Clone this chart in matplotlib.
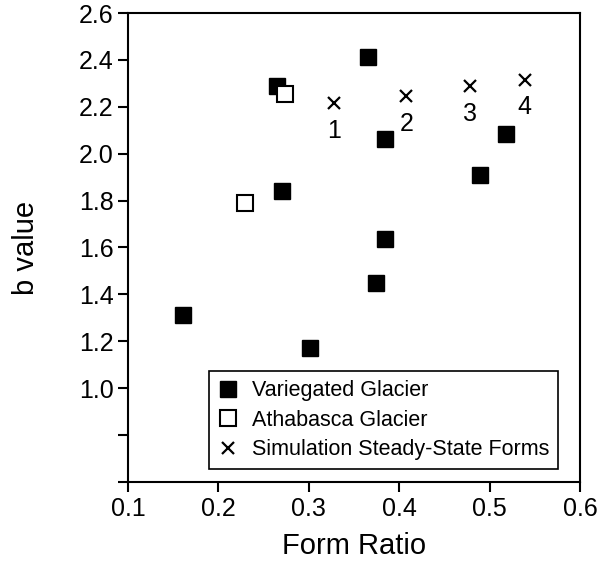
import matplotlib.pyplot as plt

plt.rcParams['font.family'] = ['Liberation Sans', 'DejaVu Sans']

# Variegated Glacier
var_x = [0.161, 0.265, 0.270, 0.301, 0.366, 0.374, 0.384, 0.384, 0.489, 0.518]
var_y = [1.310, 2.287, 1.839, 1.173, 2.412, 1.448, 2.064, 1.636, 1.909, 2.082]
# Athabasca Glacier
ath_x = [0.230, 0.274]
ath_y = [1.788, 2.256]
# simulation steady-state forms
sim_x = [0.328, 0.408, 0.478, 0.539]
sim_y = [2.217, 2.245, 2.287, 2.316]
sim_lab = ['1', '2', '3', '4']

yticks = [0.6, 0.8, 1.0, 1.2, 1.4, 1.6, 1.8, 2.0, 2.2, 2.4, 2.6]
ylabels = ['', '', '1.0', '1.2', '1.4', '1.6', '1.8', '2.0', '2.2', '2.4', '2.6']
xticks = [0.1, 0.2, 0.3, 0.4, 0.5, 0.6]

fig = plt.figure(figsize=(6.06, 5.63), dpi=100)
ax = fig.add_axes([0.2112, 0.1439, 0.7458, 0.833])

ax.plot(var_x, var_y, 's', ms=12, color='black', label='Variegated Glacier')
ax.plot(ath_x, ath_y, 's', ms=11, mfc='white', mec='black', mew=1.5, label='Athabasca Glacier')
ax.plot(sim_x, sim_y, ls='none', marker='x', ms=8, mew=1.6, color='black',
        label='Simulation Steady-State Forms')
for x, y, t in zip(sim_x, sim_y, sim_lab):
    ax.annotate(t, (x, y), xytext=(0, -20), textcoords='offset points',
                ha='center', va='center', fontsize=18)

ax.set_xlim(0.1, 0.6)
ax.set_ylim(0.6, 2.6)
ax.set_xticks(xticks)
ax.set_xticklabels(['0.1', '0.2', '0.3', '0.4', '0.5', '0.6'])
ax.set_yticks(yticks)
ax.set_yticklabels(ylabels)
ax.tick_params(labelsize=18, length=7, width=1.5)
for s in ax.spines.values():
    s.set_linewidth(1.5)

ax.set_xlabel('Form Ratio', fontsize=21, labelpad=8)
ax.set_ylabel('b value', fontsize=21, labelpad=28)

leg = ax.legend(loc='lower right', bbox_to_anchor=(0.975, 0.005), fontsize=15.5,
                frameon=True, fancybox=False, edgecolor='black', framealpha=1,
                handlelength=1, handletextpad=0.6, borderpad=0.4, labelspacing=0.4)
leg.get_frame().set_linewidth(1.2)

plt.savefig('out.png')
